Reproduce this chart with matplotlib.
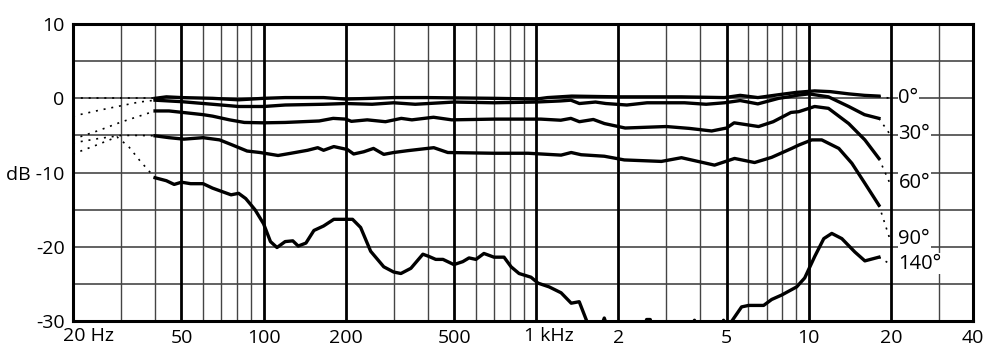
import matplotlib.pyplot as plt
from matplotlib.transforms import offset_copy

plt.rcParams['font.family'] = ['Open Sans', 'DejaVu Sans']

# measured curves, frequency in Hz and level in dB
f_0 = [40, 44, 50, 65, 81, 100, 120, 166, 200, 250, 300, 400, 700, 1000, 1100, 1350, 2000, 2500,
       3400, 4900, 5600, 6500, 7800, 9000, 10500, 12000, 14000, 16000, 18070]
db_0 = [0.0, 0.2, 0.1, 0.0, -0.2, 0.0, 0.1, 0.1, -0.1, 0.0, 0.1, 0.1, 0.0, -0.1, 0.1, 0.3, 0.2, 0.2,
        0.2, 0.1, 0.4, 0.1, 0.5, 0.8, 1.0, 0.9, 0.6, 0.4, 0.3]

f_30 = [40, 50, 65, 81, 100, 120, 166, 200, 250, 300, 360, 500, 700, 1000, 1230, 1340, 1440, 1650,
        1800, 2150, 2550, 3500, 4200, 4900, 5600, 6500, 7750, 8430, 9000, 10000, 11800, 14000,
        16000, 18070]
db_30 = [-0.25, -0.45, -0.8, -1.1, -1.1, -0.9, -0.8, -0.7, -0.8, -0.6, -0.8, -0.5, -0.6, -0.5,
         -0.35, -0.25, -0.7, -0.5, -0.7, -0.9, -0.6, -0.6, -0.8, -0.6, -0.3, -0.75, 0.0, 0.2, 0.4,
         0.6, 0.2, -1.1, -2.2, -2.7]

f_60 = [40, 45, 60, 65, 75, 85, 100, 120, 160, 180, 200, 210, 240, 280, 320, 350, 420, 490, 700,
        1040, 1230, 1340, 1440, 1620, 1780, 2120, 3000, 3640, 4400, 4990, 5320, 6540, 7400, 8600,
        9180, 10500, 11800, 14000, 16050, 18070]
db_60 = [-1.7, -1.7, -2.2, -2.4, -2.9, -3.25, -3.3, -3.25, -3.05, -2.7, -2.8, -3.1, -2.9, -3.15,
         -2.7, -2.9, -2.55, -2.9, -2.8, -2.8, -2.95, -2.7, -3.15, -2.85, -3.4, -4.0, -3.8, -4.05,
         -4.4, -4.0, -3.3, -3.8, -3.15, -1.9, -1.8, -1.1, -1.35, -3.4, -5.6, -8.1]

f_90 = [40, 45, 51, 60, 69, 77, 87, 97, 113, 126, 145, 158, 166, 181, 203, 214, 233, 253, 276, 300,
        338, 421, 474, 700, 934, 1234, 1344, 1462, 1777, 2104, 2878, 3410, 4508, 5340, 6325, 7304,
        8650, 9180, 10250, 11150, 12880, 14380, 16050, 18070]
db_90 = [-5.05, -5.3, -5.5, -5.3, -5.6, -6.3, -7.1, -7.3, -7.7, -7.4, -7.0, -6.65, -7.0, -6.5,
         -6.9, -7.5, -7.2, -6.75, -7.55, -7.3, -7.05, -6.65, -7.3, -7.4, -7.4, -7.65, -7.3, -7.6,
         -7.8, -8.3, -8.5, -8.0, -9.0, -8.1, -8.65, -7.95, -6.75, -6.3, -5.6, -5.6, -6.75, -8.75,
         -11.45, -14.4]

f_140 = [40, 44, 47, 50, 54, 60, 65, 76, 81, 86, 93, 100, 106, 112, 120, 128, 134, 143, 153, 166,
         181, 212, 227, 247, 276, 300, 319, 347, 384, 404, 428, 455, 499, 538, 567, 601, 643, 700,
         762, 809, 865, 957, 1016, 1115, 1234, 1344, 1438, 1551, 1700, 1777, 1850, 2500, 2540,
         2620, 2660, 3700, 3806, 3900, 4800, 4864, 5000, 5666, 6012, 6826, 7304, 7950, 9024, 9656,
         10510, 11344, 12138, 13212, 14748, 16050, 18070]
db_140 = [-10.7, -11.1, -11.6, -11.3, -11.5, -11.5, -12.1, -13.0, -12.8, -13.5, -15.0, -16.9,
          -19.3, -20.1, -19.3, -19.2, -19.9, -19.5, -17.8, -17.2, -16.3, -16.3, -17.4, -20.6,
          -22.7, -23.4, -23.6, -22.9, -21.0, -21.3, -21.7, -21.7, -22.4, -22.0, -21.5, -21.7,
          -20.9, -21.4, -21.4, -22.7, -23.6, -24.1, -24.9, -25.4, -26.2, -27.6, -27.4, -30.5,
          -31.5, -29.6, -31.5, -31.0, -29.8, -29.8, -31.0, -31.0, -29.9, -31.0, -31.0, -29.9,
          -31.0, -28.1, -27.9, -27.9, -27.1, -26.5, -25.4, -24.2, -21.3, -18.9, -18.2, -18.9,
          -20.7, -21.9, -21.4]

# dotted extrapolation below 40 Hz
lf_0 = [20, 40]
ldb_0 = [0.0, 0.0]
lf_30 = [20, 25, 30, 35, 40]
ldb_30 = [-2.4, -1.6, -1.0, -0.5, -0.25]
lf_60 = [20, 25, 30, 35, 40]
ldb_60 = [-5.5, -4.3, -3.2, -2.4, -1.7]
lf_90 = [20, 25, 30, 35, 40]
ldb_90 = [-6.0, -5.4, -5.0, -5.0, -5.05]
lf_140 = [20, 24, 29, 32, 35, 38, 40]
ldb_140 = [-7.5, -6.4, -5.2, -6.5, -8.3, -9.8, -10.7]

# dotted leaders from curve end to angle label
rf = [18070, 19800]
rdb = [[0.3, 0.0], [-2.7, -4.8], [-8.1, -11.4], [-14.4, -18.9], [-21.4, -22.3]]
angle_labels = ['0°', '30°', '60°', '90°', '140°']
label_db = [0.0, -4.8, -11.4, -18.9, -22.3]

major_f = [50, 100, 200, 500, 1000, 2000, 5000, 10000, 20000]
minor_f = [30, 40, 60, 70, 80, 90, 300, 400, 600, 700, 800, 900, 3000, 4000, 6000, 7000, 8000,
           9000, 30000]
grid_db = [-25, -20, -15, -10, -5, 0, 5]

xtick_f = [50, 100, 200, 500, 2000, 5000, 10000, 20000, 40000]
xtick_lab = ['50', '100', '200', '500', '2', '5', '10', '20', '40']
ytick_db = [-30, -20, -10, 0, 10]
ytick_lab = ['-30', '-20', 'dB -10', '0', '10']

fig = plt.figure(figsize=(10, 3.56), dpi=100)
ax = fig.add_axes([0.073, 0.0983, 0.9, 0.834])
ax.set_xscale('log')
ax.set_xlim(20, 40000)
ax.set_ylim(-30, 10)

for g in grid_db:
    ax.axhline(g, color='#555555', lw=1.3, zorder=1)
for f in minor_f:
    ax.axvline(f, color='#444444', lw=1.0, zorder=1)
for f in major_f:
    ax.axvline(f, color='black', lw=2.0, zorder=1)

for f, d in [(f_0, db_0), (f_30, db_30), (f_60, db_60), (f_90, db_90), (f_140, db_140)]:
    ax.plot(f, d, color='black', lw=2.4, solid_joinstyle='round', zorder=3)

for f, d in [(lf_0, ldb_0), (lf_30, ldb_30), (lf_60, ldb_60), (lf_90, ldb_90), (lf_140, ldb_140)]:
    ax.plot(f, d, color='black', lw=1.2, ls=(0, (1.2, 3.5)), zorder=3)
for d in rdb:
    ax.plot(rf, d, color='black', lw=1.2, ls=(0, (1.2, 3.5)), zorder=3)

for lab, d in zip(angle_labels, label_db):
    ax.text(21300, d, lab, fontsize=14.5, va='center', ha='left', zorder=4,
            bbox=dict(facecolor='white', edgecolor='none', pad=0.5))

for s in ax.spines.values():
    s.set_linewidth(2.2)
    s.set_zorder(5)

ax.set_xticks(xtick_f, xtick_lab)
ax.set_xticks([], minor=True)
ax.set_yticks(ytick_db, ytick_lab)
ax.tick_params(length=0, labelsize=14)
ax.tick_params(axis='x', pad=6)
ax.tick_params(axis='y', pad=6)

trans = ax.get_xaxis_transform()
ax.text(20, 0, '20 Hz', fontsize=14, ha='left', va='top',
        transform=offset_copy(trans, fig=fig, x=-10, y=-6, units='dots'))
ax.text(1000, 0, '1 kHz', fontsize=14, ha='left', va='top',
        transform=offset_copy(trans, fig=fig, x=-12, y=-6, units='dots'))

fig.savefig('out.png', dpi=100)
